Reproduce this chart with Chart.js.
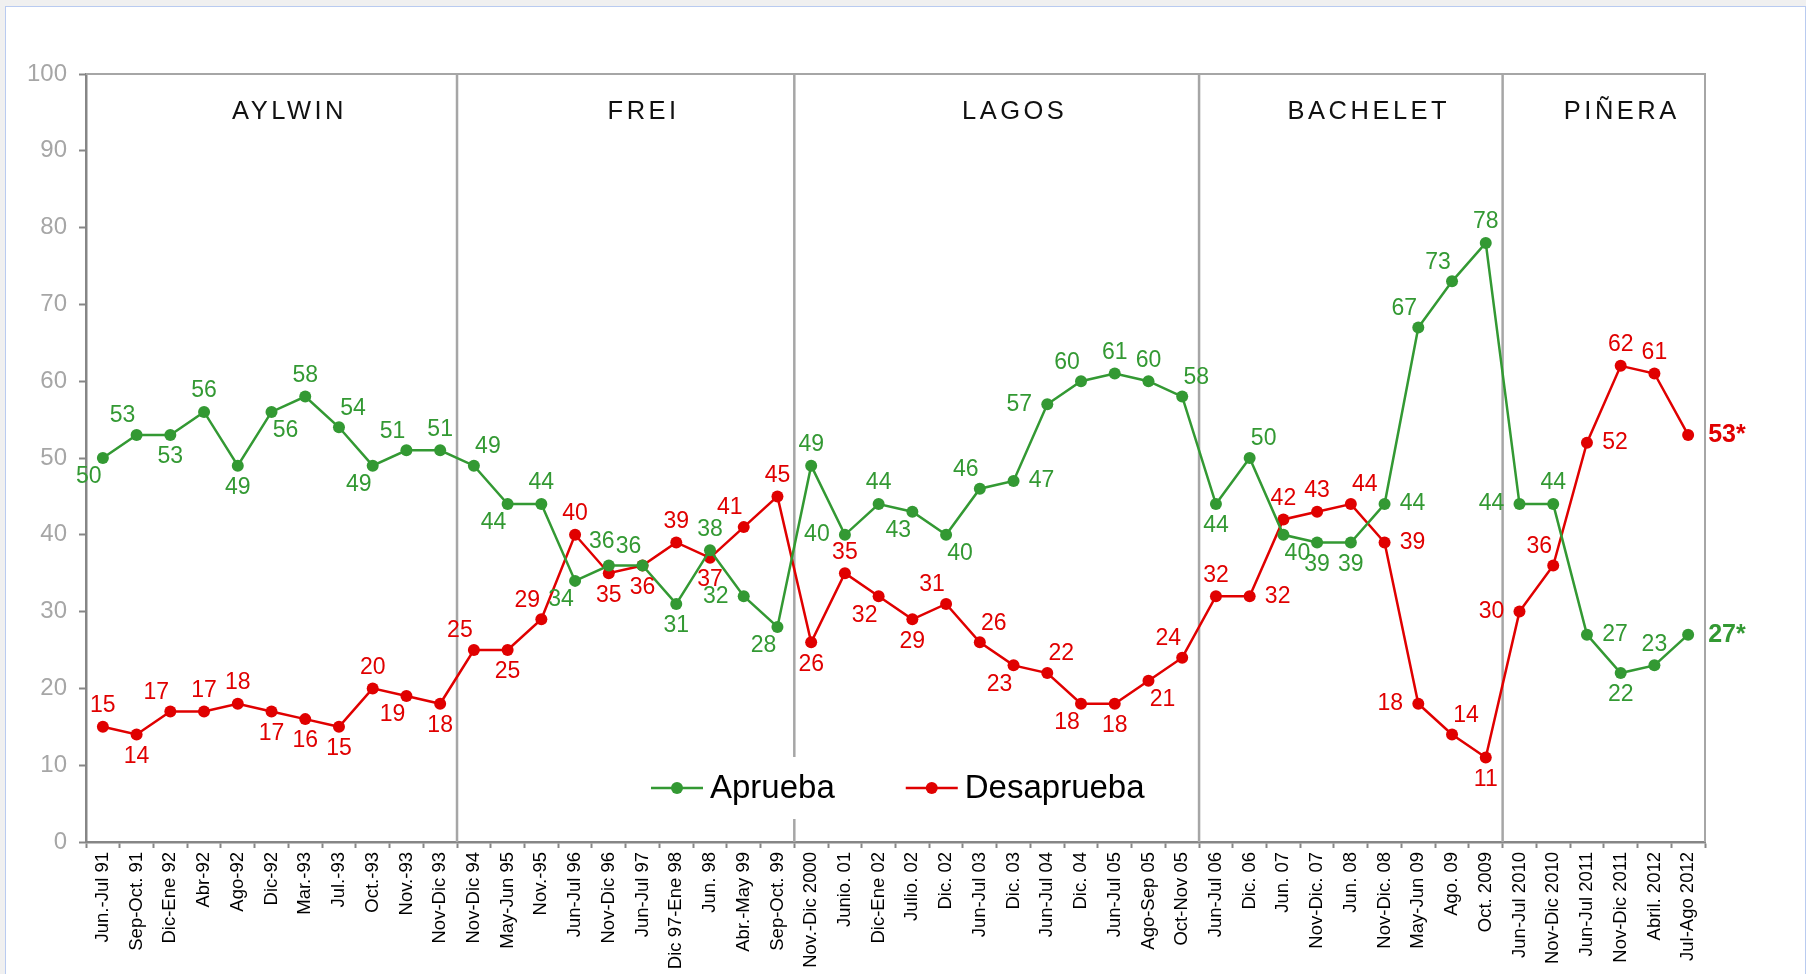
<!DOCTYPE html>
<html>
<head>
<meta charset="utf-8">
<script src="https://cdn.jsdelivr.net/npm/chart.js@4.4.1/dist/chart.umd.min.js"></script>
<style>
  html, body { margin: 0; padding: 0; background: #f0f0f0; overflow: hidden; }
  .frame {
    position: absolute; left: 5px; top: 6px; width: 1801px; height: 990px;
    background: #fff; border: 1px solid #b9cbf0; box-sizing: border-box;
  }
  #chart { position: absolute; left: 0; top: 0; }
</style>
</head>
<body>
<div class="frame"></div>
<canvas id="chart" width="1806" height="974"></canvas>
<script>
const periods = [
  'Jun.-Jul 91', 'Sep-Oct. 91', 'Dic-Ene 92', 'Abr-92', 'Ago-92', 'Dic-92', 'Mar.-93', 'Jul.-93',
  'Oct.-93', 'Nov.-93', 'Nov-Dic 93', 'Nov-Dic 94', 'May-Jun 95', 'Nov.-95', 'Jun-Jul 96',
  'Nov-Dic 96', 'Jun-Jul 97', 'Dic 97-Ene 98', 'Jun. 98', 'Abr.-May 99', 'Sep-Oct. 99',
  'Nov.-Dic 2000', 'Junio. 01', 'Dic-Ene 02', 'Julio. 02', 'Dic. 02', 'Jun-Jul 03', 'Dic. 03',
  'Jun-Jul 04', 'Dic. 04', 'Jun-Jul 05', 'Ago-Sep 05', 'Oct-Nov 05', 'Jun-Jul 06', 'Dic. 06',
  'Jun. 07', 'Nov-Dic. 07', 'Jun. 08', 'Nov-Dic. 08', 'May-Jun 09', 'Ago. 09', 'Oct. 2009',
  'Jun-Jul 2010', 'Nov-Dic 2010', 'Jun-Jul 2011', 'Nov-Dic 2011', 'Abril. 2012', 'Jul-Ago 2012'
];
const aprueba = [
  50, 53, 53, 56, 49, 56, 58, 54, 49, 51, 51,
  49, 44, 44, 34, 36, 36, 31, 38, 32, 28,
  49, 40, 44, 43, 40, 46, 47, 57, 60, 61, 60, 58,
  44, 50, 40, 39, 39, 44, 67, 73, 78,
  44, 44, 27, 22, 23, 27
];
const desaprueba = [
  15, 14, 17, 17, 18, 17, 16, 15, 20, 19, 18,
  25, 25, 29, 40, 35, 36, 39, 37, 41, 45,
  26, 35, 32, 29, 31, 26, 23, 22, 18, 18, 21, 24,
  32, 32, 42, 43, 44, 39, 18, 14, 11,
  30, 36, 52, 62, 61, 53
];
const presidents = ['AYLWIN', 'FREI', 'LAGOS', 'BACHELET', 'PIÑERA'];
const termStarts = [0, 11, 21, 33, 42];   // index of first survey in each term
const yMin = 0, yMax = 100, yStep = 10;

// where each value label sits around its point
const apruebaPlaces = [
  'bl', 'al', 'b', 'a', 'b', 'br', 'a', 'ar', 'bl', 'al', 'a',
  'ar', 'bl', 'a', 'bl', 'as', 'al', 'b', 'a', 'l', 'bl',
  'a', 'l', 'a', 'bl', 'br', 'al', 'r', 'l', 'al', 'a', 'a', 'ar',
  'b', 'ar', 'br', 'b', 'b', 'r', 'al', 'al', 'a',
  'l', 'a', 'r', 'b', 'a', 'r'
];
const desapruebaPlaces = [
  'a', 'b', 'al', 'a', 'a', 'b', 'b', 'b', 'a', 'bl', 'b',
  'al', 'b', 'al', 'a', 'b', 'b', 'a', 'b', 'al', 'a',
  'b', 'a', 'bl', 'b', 'al', 'ar', 'bl', 'ar', 'bl', 'b', 'br', 'al',
  'a', 'r', 'a', 'a', 'ar', 'r', 'l', 'ar', 'b',
  'l', 'al', 'r', 'a', 'a', 'r'
];
const offsets = {
  a: [0, -21], as: [-7, -24], b: [0, 22], al: [-14, -19], ar: [14, -19],
  bl: [-14, 19], br: [14, 19], l: [-28, 0], r: [28, 0]
};

const GREEN = '#339933';
const RED = '#e00000';
const FONT = '"Liberation Sans", Arial, sans-serif';

const termPlugin = {
  id: 'terms',
  beforeDatasetsDraw(chart) {
    const { ctx, chartArea: a, scales: { x } } = chart;
    ctx.save();
    ctx.strokeStyle = '#a6a6a6';
    ctx.lineWidth = 2;
    ctx.beginPath();
    ctx.moveTo(a.left, a.top);
    ctx.lineTo(a.right, a.top);
    ctx.lineTo(a.right, a.bottom);
    ctx.stroke();

    const edges = termStarts.map(i => i === 0 ? a.left : (x.getPixelForValue(i - 1) + x.getPixelForValue(i)) / 2);
    edges.push(a.right);
    ctx.lineWidth = 2.5;
    edges.slice(1, -1).forEach(px => {
      ctx.beginPath();
      ctx.moveTo(px, a.top);
      ctx.lineTo(px, a.bottom);
      ctx.stroke();
    });

    ctx.font = '25.5px ' + FONT;
    ctx.letterSpacing = '3.5px';
    ctx.textAlign = 'center';
    ctx.textBaseline = 'middle';
    ctx.fillStyle = '#111';
    presidents.forEach((name, k) => {
      ctx.fillText(name, (edges[k] + edges[k + 1]) / 2 + 18, a.top + 38);
    });
    ctx.letterSpacing = '0px';
    ctx.restore();
  }
};

const labelPlugin = {
  id: 'pointLabels',
  afterDatasetsDraw(chart) {
    const ctx = chart.ctx;
    const last = periods.length - 1;
    const places = [apruebaPlaces, desapruebaPlaces];
    ctx.save();
    ctx.textBaseline = 'middle';
    chart.data.datasets.forEach((ds, d) => {
      const meta = chart.getDatasetMeta(d);
      ctx.fillStyle = ds.borderColor;
      meta.data.forEach((pt, i) => {
        if (i === last) {
          ctx.font = 'bold 25px ' + FONT;
          ctx.textAlign = 'left';
          ctx.fillText(ds.data[i] + '*', pt.x + 20, pt.y);
        } else {
          const [dx, dy] = offsets[places[d][i]];
          ctx.font = '23px ' + FONT;
          ctx.textAlign = 'center';
          ctx.fillText(ds.data[i], pt.x + dx, pt.y + dy);
        }
      });
    });
    ctx.restore();
  }
};

const legendPlugin = {
  id: 'insideLegend',
  afterDraw(chart) {
    const { ctx, chartArea: a } = chart;
    const y = a.bottom - 54;
    ctx.save();
    ctx.fillStyle = '#fff';
    ctx.fillRect(a.left + 548, y - 31, 520, 62);
    ctx.font = '33px ' + FONT;
    ctx.textAlign = 'left';
    ctx.textBaseline = 'middle';
    let x0 = a.left + 565;
    chart.data.datasets.forEach(ds => {
      ctx.strokeStyle = ds.borderColor;
      ctx.lineWidth = 2.5;
      ctx.beginPath();
      ctx.moveTo(x0, y);
      ctx.lineTo(x0 + 52, y);
      ctx.stroke();
      ctx.fillStyle = ds.borderColor;
      ctx.beginPath();
      ctx.arc(x0 + 26, y, 6, 0, Math.PI * 2);
      ctx.fill();
      ctx.fillStyle = '#000';
      ctx.fillText(ds.label, x0 + 59, y + 1);
      x0 += 59 + ctx.measureText(ds.label).width + 71;
    });
    ctx.restore();
  }
};

new Chart(document.getElementById('chart').getContext('2d'), {
  type: 'line',
  data: {
    labels: periods,
    datasets: [
      {
        label: 'Aprueba',
        data: aprueba,
        borderColor: GREEN,
        backgroundColor: GREEN,
        borderWidth: 2.5,
        pointRadius: 6,
        pointBorderWidth: 0,
        pointBackgroundColor: GREEN,
        tension: 0,
        fill: false
      },
      {
        label: 'Desaprueba',
        data: desaprueba,
        borderColor: RED,
        backgroundColor: RED,
        borderWidth: 2.5,
        pointRadius: 6,
        pointBorderWidth: 0,
        pointBackgroundColor: RED,
        tension: 0,
        fill: false
      }
    ]
  },
  options: {
    responsive: false,
    devicePixelRatio: 1,
    animation: false,
    layout: { padding: { top: 74, right: 101, left: 0, bottom: 0 } },
    plugins: {
      legend: { display: false },
      tooltip: { enabled: false }
    },
    scales: {
      x: {
        offset: true,
        afterFit: s => { s.height = 132; },
        border: { color: '#868686', width: 2.5 },
        grid: {
          offset: true,
          drawOnChartArea: false,
          tickLength: 6,
          tickColor: '#868686',
          tickWidth: 2
        },
        ticks: {
          autoSkip: false,
          minRotation: 90,
          maxRotation: 90,
          padding: 4,
          color: '#000',
          font: { family: FONT, size: 18.5 }
        }
      },
      y: {
        min: yMin,
        max: yMax,
        afterFit: s => { s.width = 86; },
        border: { color: '#868686', width: 2.5 },
        grid: {
          drawOnChartArea: false,
          tickLength: 7,
          tickColor: '#868686',
          tickWidth: 2
        },
        ticks: {
          stepSize: yStep,
          padding: 12,
          color: '#a6a6a6',
          font: { family: FONT, size: 24 }
        }
      }
    }
  },
  plugins: [termPlugin, labelPlugin, legendPlugin]
});
</script>
</body>
</html>
